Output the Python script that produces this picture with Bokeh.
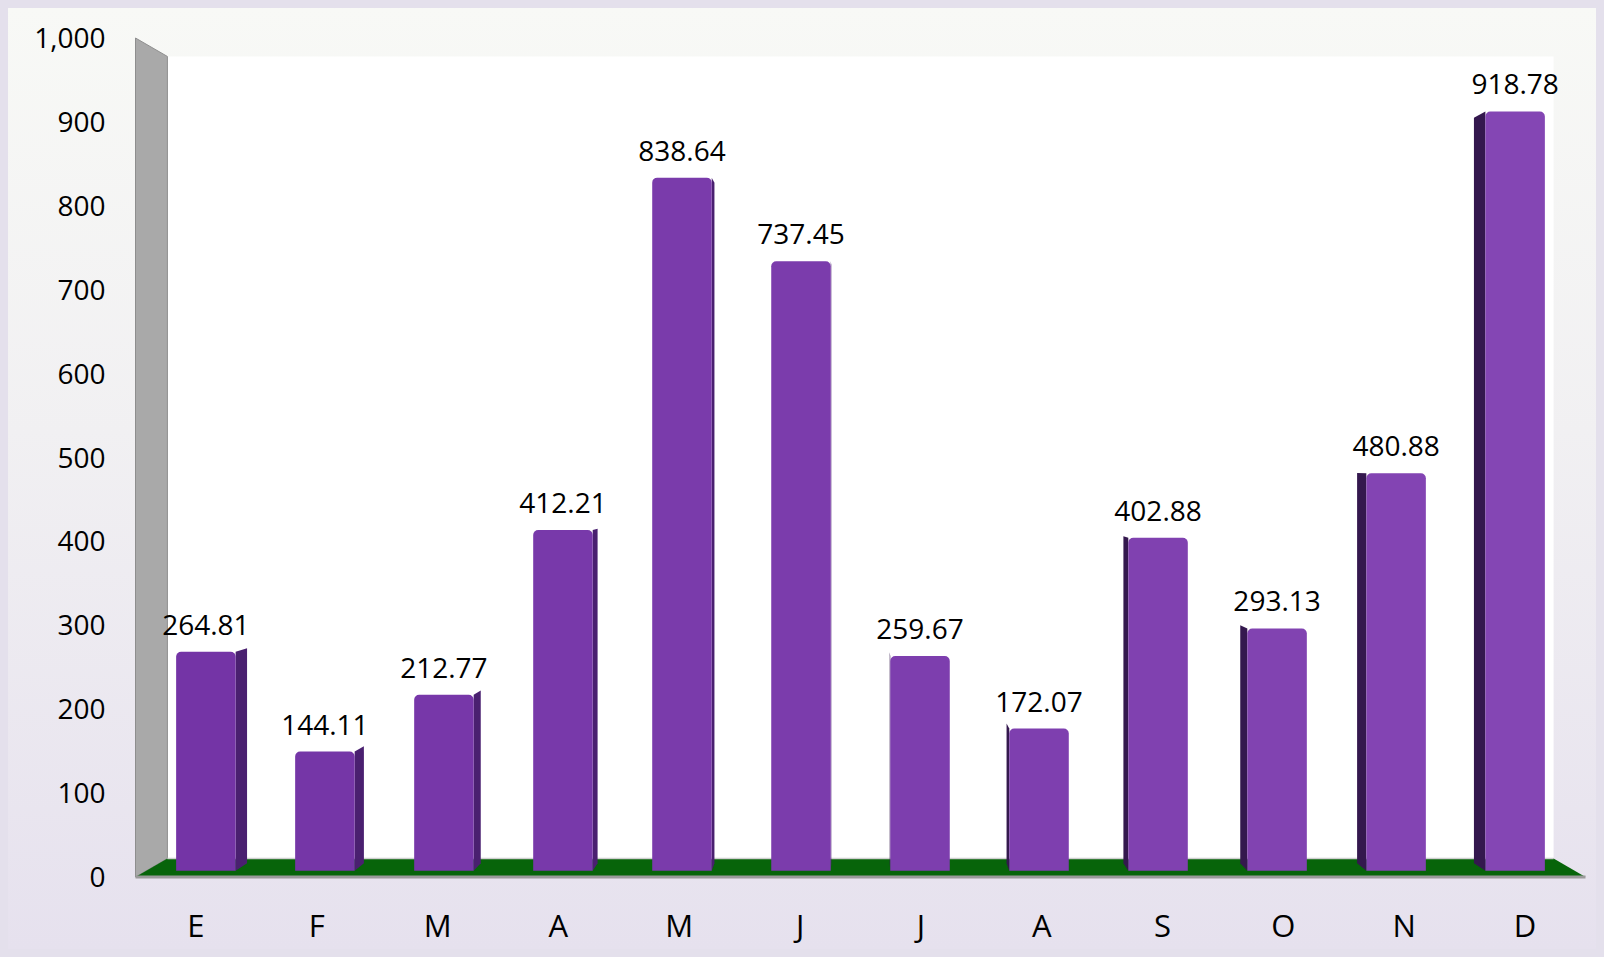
from bokeh.plotting import figure
from bokeh.models import (Range1d, LinearAxis, FixedTicker, NumeralTickFormatter,
                          CustomJSTickFormatter, ColumnDataSource)
from bokeh.core.properties import value
from bokeh.embed import file_html
from bokeh.resources import INLINE

# ---------------- data ----------------
months = ["E", "F", "M", "A", "M", "J", "J", "A", "S", "O", "N", "D"]
values = [264.81, 144.11, 212.77, 412.21, 838.64, 737.45,
          259.67, 172.07, 402.88, 293.13, 480.88, 918.78]
y_ticks = [0, 100, 200, 300, 400, 500, 600, 700, 800, 900, 1000]

# ---------------- geometry (pixel layout of the frame) ----------------
W, H = 1588, 941
FL, FR, FT, FB = 115, 1583, 0, 894          # frame bounds inside the figure
X0, X12, Y0, Y1000 = 127.0, 1577.0, 868.5, 29.5   # front plane of the 3-D box
px_x = (X12 - X0) / 12.0
px_y = (Y0 - Y1000) / 1000.0
x_start = -(X0 - FL) / px_x
x_end = 12 + (FR - X12) / px_x
y_end = 1000 + (Y1000 - FT) / px_y
y_start = -(FB - Y0) / px_y

N = len(values)
YMAX = y_ticks[-1]
CX, CY = N / 2.0, YMAX / 2.0               # vanishing centre
K_BACK, K_BAR_F, K_BAR_B = 0.956, 0.985, 0.967
HALF = 0.25


def proj(x, y, k):
    return CX + (x - CX) * k, CY + (y - CY) * k


p = figure(width=W, height=H, x_range=Range1d(x_start, x_end),
           y_range=Range1d(y_start, y_end), output_backend="svg",
           toolbar_location=None, x_axis_type=None, y_axis_type=None,
           min_border_left=FL, min_border_right=W - FR,
           min_border_top=FT, min_border_bottom=H - FB)
p.background_fill_color = None
p.border_fill_color = None
p.outline_line_color = None
p.xgrid.visible = False
p.ygrid.visible = False
p.styles = {"background": "linear-gradient(to bottom, #f8f9f6 0%, #f1f0f2 45%, #e6e1ee 100%)"}

# ---------------- walls and floor ----------------
bl = proj(0, 0, K_BACK)
tr = proj(N, YMAX, K_BACK)
p.quad(left=bl[0], right=tr[0], bottom=bl[1], top=tr[1],
       fill_color="white", line_color=None)

sw = [proj(0, 0, 1.0), proj(0, YMAX, 1.0), proj(0, YMAX, K_BACK), proj(0, 0, K_BACK)]
p.patch([q[0] for q in sw], [q[1] for q in sw], fill_color="#a9a9a9",
        line_color="#8e8e8e", line_width=1)

fl = [proj(0, 0, 1.0), proj(N, 0, 1.0), proj(N, 0, K_BACK), proj(0, 0, K_BACK)]
p.patch([q[0] for q in fl], [q[1] for q in fl], fill_color="#07640a",
        line_color=None)
p.line([fl[0][0], fl[1][0]], [fl[0][1], fl[1][1]], line_color="#9a9a9a", line_width=3)
p.line([fl[3][0], fl[2][0]], [fl[3][1], fl[2][1]], line_color="#cfcfcf", line_width=1.5)

# ---------------- bars ----------------
c0 = (116, 52, 166)
c1 = (132, 70, 180)
fronts = dict(left=[], right=[], bottom=[], top=[], color=[])
sides_x, sides_y, sides_c = [], [], []
lab_x, lab_y, lab_t = [], [], []
for i, v in enumerate(values):
    xc = i + 0.5
    t = i / (N - 1)
    col = "#%02x%02x%02x" % tuple(int(round(a + (b - a) * t)) for a, b in zip(c0, c1))
    l, b = proj(xc - HALF, 0, K_BAR_F)
    r, tp = proj(xc + HALF, v, K_BAR_F)
    fronts["left"].append(l)
    fronts["right"].append(r)
    fronts["bottom"].append(b)
    fronts["top"].append(tp)
    fronts["color"].append(col)
    edge = xc + HALF if xc < CX else xc - HALF
    pts = [proj(edge, 0, K_BAR_F), proj(edge, v, K_BAR_F),
           proj(edge, v, K_BAR_B), proj(edge, 0, K_BAR_B)]
    sides_x.append([q[0] for q in pts])
    sides_y.append([q[1] for q in pts])
    sides_c.append("#4a2070" if xc < CX else "#34184e")
    cx_, _ = proj(xc, v, K_BAR_F)
    lab_x.append(cx_)
    lab_y.append(tp)
    lab_t.append("%.2f" % v)

p.patches(sides_x, sides_y, fill_color=sides_c, line_color=None)
p.quad(source=ColumnDataSource(fronts), left="left", right="right",
       bottom="bottom", top="top", fill_color="color", line_color=None,
       border_radius=(5, 5, 0, 0))

p.text(x=lab_x, y=lab_y, text=lab_t, text_align="center",
       text_baseline="alphabetic", y_offset=-27,
       text_font=value("Open Sans"), text_font_size=value("28px"), text_color="black")

# ---------------- axes ----------------
yax = LinearAxis(ticker=FixedTicker(ticks=y_ticks),
                 formatter=NumeralTickFormatter(format="0,0"))
yax.axis_line_color = None
yax.major_tick_line_color = None
yax.minor_tick_line_color = None
yax.major_tick_out = 0
yax.major_label_standoff = 18
yax.major_label_text_font = "Open Sans"
yax.major_label_text_font_size = "28px"
yax.major_label_text_color = "black"
p.add_layout(yax, "left")

xax = LinearAxis(ticker=FixedTicker(ticks=[i + 0.5 for i in range(N)]),
                 formatter=CustomJSTickFormatter(args=dict(labels=months),
                                                 code="return labels[Math.floor(tick)];"))
xax.axis_line_color = None
xax.major_tick_line_color = None
xax.minor_tick_line_color = None
xax.major_tick_out = 0
xax.major_label_standoff = 1
xax.major_label_text_font = "Open Sans"
xax.major_label_text_font_size = "31px"
xax.major_label_text_color = "black"
p.add_layout(xax, "below")

html = file_html(p, INLINE)
html = html.replace(
    "</head>",
    "<style>html,body{background:#e4e0ec !important;}"
    "body{padding:8px !important;box-sizing:border-box !important;}</style></head>", 1)
open("out.html", "w").write(html)
